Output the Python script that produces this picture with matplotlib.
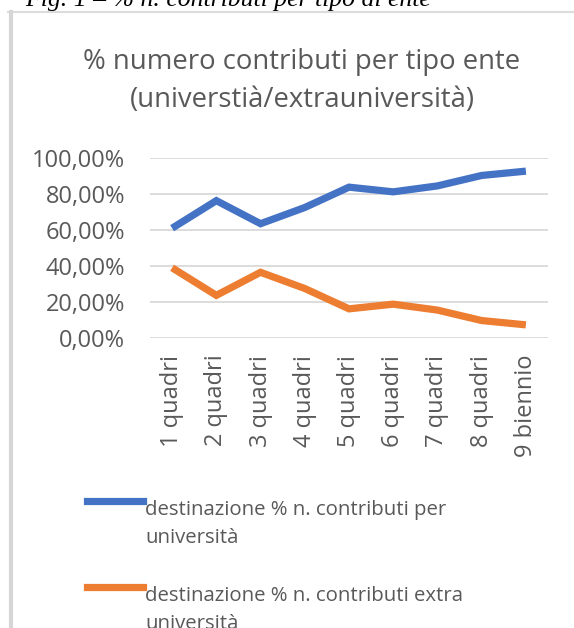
import matplotlib

matplotlib.use('Agg')

import matplotlib.pyplot as plt
from matplotlib.lines import Line2D
from matplotlib.ticker import FuncFormatter

plt.rcParams.update({
    'font.family': ['Open Sans', 'DejaVu Sans'],
    'text.color': '#595959',
    'xtick.color': '#595959',
    'ytick.color': '#595959',
})

categories = ['1 quadri', '2 quadri', '3 quadri', '4 quadri', '5 quadri',
              '6 quadri', '7 quadri', '8 quadri', '9 biennio']
universita = [0.61, 0.763, 0.635, 0.725, 0.838, 0.812, 0.845, 0.903, 0.927]
extra_universita = [0.39, 0.237, 0.365, 0.275, 0.162, 0.188, 0.155, 0.097, 0.073]
series_labels = ['destinazione % n. contributi per\nuniversità',
                 'destinazione % n. contributi extra\nuniversità']
series_colors = ['#4472C4', '#ED7D31']

W, H = 574, 628
fig = plt.figure(figsize=(W / 100, H / 100), dpi=100)

# frame of the document box
fig.add_artist(Line2D([8 / W, 1], [1 - 12 / H] * 2, color='#DCDCDC', lw=1.5))
fig.add_artist(Line2D([11 / W] * 2, [0, 1 - 12 / H], color='#D6D6D6', lw=3))

# caption above the box (clipped in the source)
fig.text(25 / W, 1 - 6 / H, 'Fig. 1 – % n. contributi per tipo di ente',
         family='Liberation Serif', style='italic', fontsize=18.5, color='black',
         ha='left', va='baseline')

fig.text(302 / W, 1 - 62 / H, '% numero contributi per tipo ente',
         fontsize=19.8, ha='center', va='center')
fig.text(302 / W, 1 - 100 / H, '(universtià/extrauniversità)',
         fontsize=19.8, ha='center', va='center')

ax = fig.add_axes([150 / W, 1 - 338 / H, 398 / W, 180 / H])
x = range(len(categories))
for vals, col in zip([universita, extra_universita], series_colors):
    ax.plot(x, vals, color=col, lw=5.2, solid_joinstyle='miter',
            solid_capstyle='butt')

ax.set_xlim(-0.5, len(categories) - 0.5)
ax.set_ylim(0, 1)
ax.set_yticks([0, 0.2, 0.4, 0.6, 0.8, 1.0])
ax.yaxis.set_major_formatter(FuncFormatter(lambda v, p: f'{v * 100:.2f}%'.replace('.', ',')))
ax.set_xticks(list(x))
ax.set_xticklabels(categories, rotation=90)
ax.tick_params(axis='y', length=0, pad=18, labelsize=17)
ax.tick_params(axis='x', length=0, pad=12, labelsize=17)
ax.grid(axis='y', color='#D9D9D9', lw=1.3)
ax.set_axisbelow(True)
for s in ax.spines.values():
    s.set_visible(False)

# legend drawn by hand, Excel-style wrapping
leg_y = [501, 587]
for lab, col, yy in zip(series_labels, series_colors, leg_y):
    fig.add_artist(Line2D([87 / W, 143 / W], [1 - yy / H] * 2, color=col, lw=5.2))
    for i, line in enumerate(lab.split('\n')):
        fig.text(145 / W, 1 - (yy + 14 + 28 * i) / H, line, fontsize=14.7,
                 ha='left', va='baseline')

plt.savefig('out.png', dpi=100)
